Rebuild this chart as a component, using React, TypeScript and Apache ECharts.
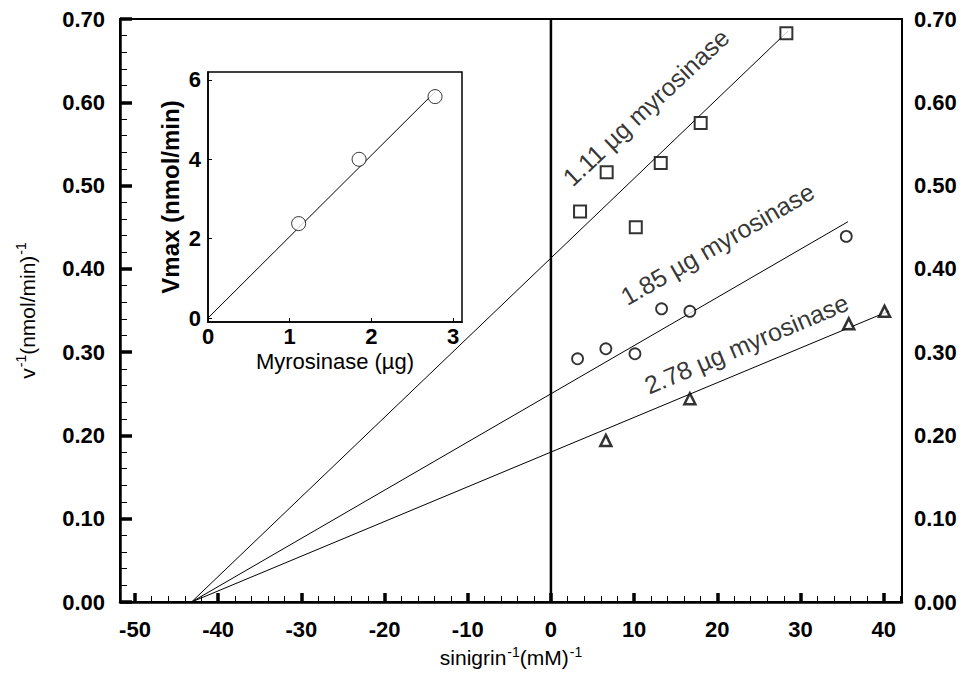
import React, { useEffect, useRef } from "react";
import * as echarts from "echarts";

// ---- axis ticks ----
const xMajorTicks = [-50, -40, -30, -20, -10, 0, 10, 20, 30, 40];
const xMinorTicks = [
  -50, -48, -46, -44, -42, -40, -38, -36, -34, -32, -30, -28, -26, -24, -22, -20, -18, -16, -14, -12,
  -10, -8, -6, -4, -2, 0, 2, 4, 6, 8, 10, 12, 14, 16, 18, 20, 22, 24, 26, 28, 30, 32, 34, 36, 38, 40, 42,
];
const insetXTicks = [0, 1, 2, 3];
const insetYTicks = [0, 2, 4, 6];

// ---- main plot data (Lineweaver-Burk) ----
const seriesNames = ["1.11 µg myrosinase", "1.85 µg myrosinase", "2.78 µg myrosinase"];

const squareX = [3.5, 6.7, 10.2, 13.2, 18.0, 28.3];
const squareY = [0.469, 0.516, 0.45, 0.527, 0.575, 0.683];

const circleX = [3.2, 6.6, 10.1, 13.3, 16.7, 35.5];
const circleY = [0.292, 0.304, 0.298, 0.352, 0.349, 0.439];

const triangleX = [6.6, 16.7, 35.8, 40.1];
const triangleY = [0.194, 0.244, 0.334, 0.349];

// fitted lines: common x-intercept, individual y-intercepts and end points
const xIntercept = -43.2;
const yIntercepts = [0.413, 0.25, 0.18];
const fitEndX = [28.5, 35.7, 40.6];

// label anchors for the fitted lines
const labelX = [11.4, 20.0, 23.5];
const labelY = [0.594, 0.43, 0.31];
const labelAngle = [43, 30, 23];

// ---- inset data ----
const insetDose = [1.11, 1.85, 2.78];
const insetVmax = [2.38, 4.0, 5.58];
const insetFitX = [0, 2.78];
const insetFitY = [0, 5.7];

const FONT = "'Liberation Sans', Arial, Helvetica, sans-serif";

const zip = (xs: number[], ys: number[]) => xs.map((x, i) => [x, ys[i]]);

export default function App() {
  const ref = useRef<HTMLDivElement>(null);

  useEffect(() => {
    if (!ref.current) return;
    const chart = echarts.init(ref.current, undefined, { renderer: "svg" });

    const fitLines = yIntercepts.map((b, i) => ({
      type: "line",
      xAxisIndex: 0,
      yAxisIndex: 0,
      symbol: "none",
      silent: true,
      data: [
        [xIntercept, 0],
        [fitEndX[i], b * (1 - fitEndX[i] / xIntercept)],
      ],
      lineStyle: { color: "#000", width: 1 },
      z: 2,
    }));

    const scatterBase = {
      type: "scatter",
      xAxisIndex: 0,
      yAxisIndex: 0,
      itemStyle: { color: "#fff", borderColor: "#000", borderWidth: 2 },
      z: 5,
      clip: false,
    };

    const tickLabel = {
      color: "#000",
      fontSize: 22,
      fontWeight: "bold",
      fontFamily: FONT,
    };

    const supRich = {
      a: { fontSize: 21, fontFamily: FONT, color: "#000" },
      s: { fontSize: 14, fontFamily: FONT, color: "#000", padding: [0, 0, 12, 1] },
    };

    const option: any = {
      animation: false,
      backgroundColor: "#fff",
      textStyle: { fontFamily: FONT },
      grid: [
        {
          left: 120,
          right: 62,
          top: 19,
          bottom: 79,
          show: true,
          borderColor: "#000",
          borderWidth: 2,
        },
        {
          left: 208,
          top: 72,
          width: 254,
          height: 250,
          show: true,
          borderColor: "#000",
          borderWidth: 1.5,
          backgroundColor: "#fff",
        },
      ],
      xAxis: [
        {
          type: "value",
          gridIndex: 0,
          position: "bottom",
          min: -51.8,
          max: 42.2,
          splitLine: { show: false },
          axisLine: { show: true, onZero: false, lineStyle: { color: "#000", width: 2.5 } },
          axisTick: {
            show: true,
            inside: true,
            length: 9,
            customValues: xMajorTicks,
            lineStyle: { color: "#000", width: 3.5 },
          },
          axisLabel: { ...tickLabel, customValues: xMajorTicks, margin: 16 },
          name: "{a|sinigrin}{s|-1}{a|(mM)}{s|-1}",
          nameLocation: "middle",
          nameGap: 41,
          nameTextStyle: { color: "#000", rich: supRich },
        },
        {
          type: "value",
          gridIndex: 0,
          position: "bottom",
          min: -51.8,
          max: 42.2,
          splitLine: { show: false },
          axisLine: { show: false, onZero: false },
          axisTick: {
            show: true,
            inside: true,
            length: 6,
            customValues: xMinorTicks,
            lineStyle: { color: "#000", width: 1 },
          },
          axisLabel: { show: false },
        },
        {
          type: "value",
          gridIndex: 1,
          position: "bottom",
          min: 0,
          max: 3.11,
          splitLine: { show: false },
          axisLine: { show: true, onZero: false, lineStyle: { color: "#000", width: 1.5 } },
          axisTick: {
            show: true,
            inside: true,
            length: 4,
            customValues: insetXTicks,
            lineStyle: { color: "#000", width: 1 },
          },
          axisLabel: { ...tickLabel, customValues: insetXTicks, margin: 3 },
          name: "Myrosinase (µg)",
          nameLocation: "middle",
          nameGap: 28,
          nameTextStyle: { color: "#000", fontSize: 22, fontFamily: FONT },
        },
      ],
      yAxis: [
        {
          type: "value",
          gridIndex: 0,
          position: "left",
          min: 0,
          max: 0.7,
          interval: 0.1,
          splitLine: { show: false },
          axisLine: { show: true, onZero: false, lineStyle: { color: "#000", width: 2.5 } },
          axisTick: { show: true, inside: true, length: 12, lineStyle: { color: "#000", width: 3.5 } },
          minorTick: { show: true, splitNumber: 5, length: 7, lineStyle: { color: "#000", width: 1 } },
          axisLabel: { ...tickLabel, margin: 15, formatter: (v: number) => v.toFixed(2) },
          name: "{a|v}{s|-1}{a|(nmol/min)}{s|-1}",
          nameLocation: "middle",
          nameGap: 80,
          nameTextStyle: { color: "#000", rich: supRich },
        },
        {
          type: "value",
          gridIndex: 0,
          position: "right",
          min: 0,
          max: 0.7,
          interval: 0.1,
          splitLine: { show: false },
          axisLine: { show: true, onZero: false, lineStyle: { color: "#000", width: 2 } },
          axisTick: { show: false },
          axisLabel: { ...tickLabel, margin: 12, formatter: (v: number) => v.toFixed(2) },
        },
        {
          type: "value",
          gridIndex: 1,
          position: "left",
          min: -0.1,
          max: 6.2,
          splitLine: { show: false },
          axisLine: { show: true, onZero: false, lineStyle: { color: "#000", width: 1.5 } },
          axisTick: {
            show: true,
            inside: true,
            length: 4,
            customValues: insetYTicks,
            lineStyle: { color: "#000", width: 1 },
          },
          axisLabel: { ...tickLabel, customValues: insetYTicks, margin: 7 },
          name: "Vmax (nmol/min)",
          nameLocation: "middle",
          nameGap: 26,
          nameTextStyle: { color: "#000", fontSize: 24, fontWeight: "bold", fontFamily: FONT },
        },
      ],
      series: [
        {
          type: "line",
          xAxisIndex: 0,
          yAxisIndex: 0,
          symbol: "none",
          silent: true,
          data: [
            [0, 0],
            [0, 0.7],
          ],
          lineStyle: { color: "#000", width: 2.5 },
          z: 1,
        },
        ...fitLines,
        {
          ...scatterBase,
          name: seriesNames[0],
          symbol: "rect",
          symbolSize: 12,
          data: zip(squareX, squareY),
        },
        {
          ...scatterBase,
          name: seriesNames[1],
          symbol: "circle",
          symbolSize: 11,
          itemStyle: { color: "#fff", borderColor: "#000", borderWidth: 1.8 },
          data: zip(circleX, circleY),
        },
        {
          ...scatterBase,
          name: seriesNames[2],
          symbol: "triangle",
          symbolSize: 11,
          itemStyle: { color: "#fff", borderColor: "#000", borderWidth: 2.5 },
          data: zip(triangleX, triangleY),
        },
        {
          type: "scatter",
          xAxisIndex: 0,
          yAxisIndex: 0,
          symbolSize: 0,
          silent: true,
          z: 6,
          data: seriesNames.map((n, i) => ({
            name: n,
            value: [labelX[i], labelY[i]],
            label: {
              show: true,
              position: "inside",
              rotate: labelAngle[i],
              formatter: n,
              color: "#000",
              fontSize: 25,
              fontFamily: FONT,
            },
          })),
        },
        // inset
        {
          type: "line",
          xAxisIndex: 2,
          yAxisIndex: 2,
          symbol: "none",
          silent: true,
          data: zip(insetFitX, insetFitY),
          lineStyle: { color: "#000", width: 1 },
          z: 3,
        },
        {
          type: "scatter",
          xAxisIndex: 2,
          yAxisIndex: 2,
          symbol: "circle",
          symbolSize: 14,
          itemStyle: { color: "#fff", borderColor: "#000", borderWidth: 1 },
          data: zip(insetDose, insetVmax),
          z: 4,
        },
      ],
    };

    chart.setOption(option);
    return () => chart.dispose();
  }, []);

  return (
    <div
      ref={ref}
      style={{ position: "fixed", left: 0, top: 0, width: 964, height: 681, background: "#fff" }}
    />
  );
}
